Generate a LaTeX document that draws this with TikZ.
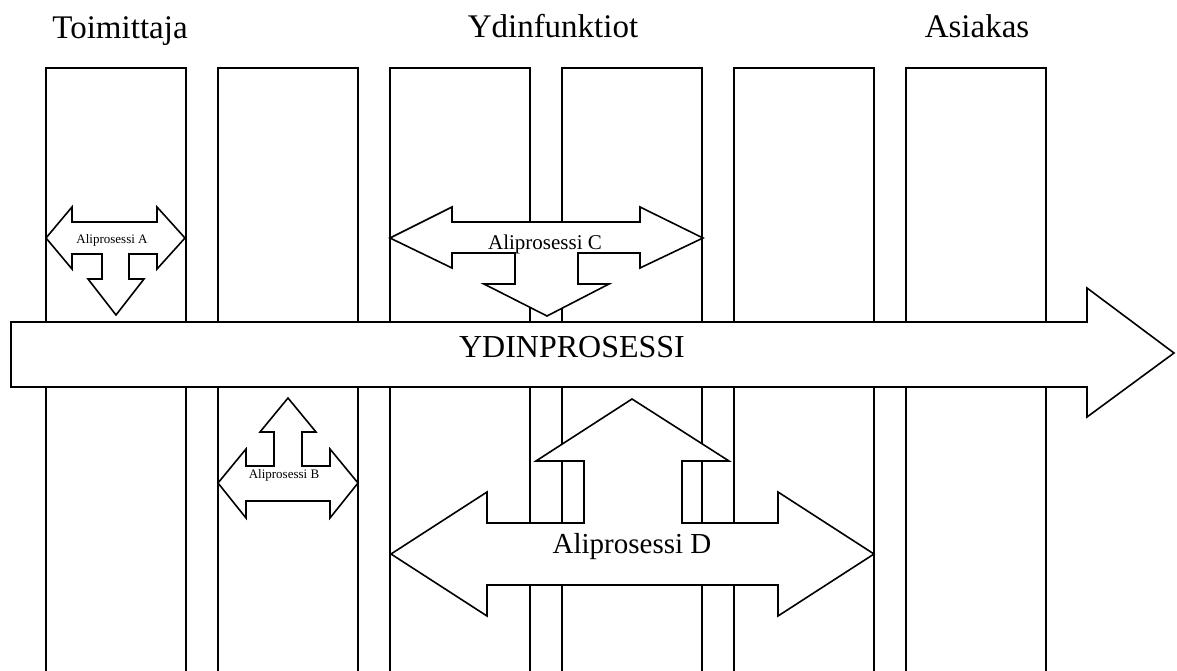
\documentclass[tikz,border=0pt]{standalone}
\usepackage{fontspec}
\setmainfont{Liberation Serif}
\begin{document}
\begin{tikzpicture}[x=1pt,y=-1pt,
  lane/.style={line width=1.6pt, line join=miter},
  blockarrow/.style={draw=black, fill=white, line width=1.6pt, line join=miter},
  title/.style={anchor=base, inner sep=0pt, font=\fontsize{33}{36}\selectfont},
  label/.style={anchor=base, inner sep=0pt}]
\useasboundingbox (0,0) rectangle (1177,671);

% swim lanes, open at the bottom
\foreach \l in {46,218,390,562,734,906}{
  \draw[lane] (\l,671) -- (\l,68) -- ({\l+140},68) -- ({\l+140},671);
}

% lane group headings
\node[title] (toimittaja) at (120,39) {Toimittaja};
\node[title] (ydinfunktiot) at (553,38) {Ydinfunktiot};
\node[title] (asiakas) at (977,38) {Asiakas};

% core process arrow
\draw[blockarrow] (11,322) -- (1087,322) -- (1087,288) -- (1174,353)
  -- (1087,417) -- (1087,387) -- (11,387) -- cycle;
\node[label, font=\fontsize{32}{35}\selectfont] (ydin) at (572,357) {YDINPROSESSI};

% sub-process A: two-way arrow with a drop into the core process
\draw[blockarrow] (46,238) -- (72,207) -- (72,222) -- (157,222) -- (157,207)
  -- (185,238) -- (157,269) -- (157,254) -- (129,254) -- (129,279)
  -- (144,279) -- (116,315) -- (88,279) -- (102,279) -- (102,254)
  -- (72,254) -- (72,269) -- cycle;
\node[label, font=\fontsize{13}{15}\selectfont] (alia) at (112,243) {Aliprosessi A};

% sub-process B: two-way arrow rising into the core process
\draw[blockarrow] (218,483) -- (246,449) -- (246,466) -- (274,466) -- (274,432)
  -- (260,432) -- (288,398) -- (316,432) -- (302,432) -- (302,466)
  -- (330,466) -- (330,449) -- (358,483) -- (330,518) -- (330,501)
  -- (246,501) -- (246,518) -- cycle;
\node[label, font=\fontsize{13}{15}\selectfont] (alib) at (284,478) {Aliprosessi B};

% sub-process C
\draw[blockarrow] (390,238) -- (452,207) -- (452,222) -- (640,222) -- (640,207)
  -- (703,238) -- (640,268) -- (640,253) -- (578,253) -- (578,284)
  -- (609,284) -- (547,316) -- (484,284) -- (515,284) -- (515,253)
  -- (452,253) -- (452,268) -- cycle;
\node[label, font=\fontsize{21}{24}\selectfont] (alic) at (545,249) {Aliprosessi C};

% sub-process D
\draw[blockarrow] (391,554) -- (487,492) -- (487,523) -- (584,523) -- (584,461)
  -- (536,461) -- (632,399) -- (729,461) -- (682,461) -- (682,523)
  -- (778,523) -- (778,492) -- (874,554) -- (778,616) -- (778,585)
  -- (487,585) -- (487,616) -- cycle;
\node[label, font=\fontsize{29}{32}\selectfont] (alid) at (632,553) {Aliprosessi D};
\end{tikzpicture}
\end{document}
